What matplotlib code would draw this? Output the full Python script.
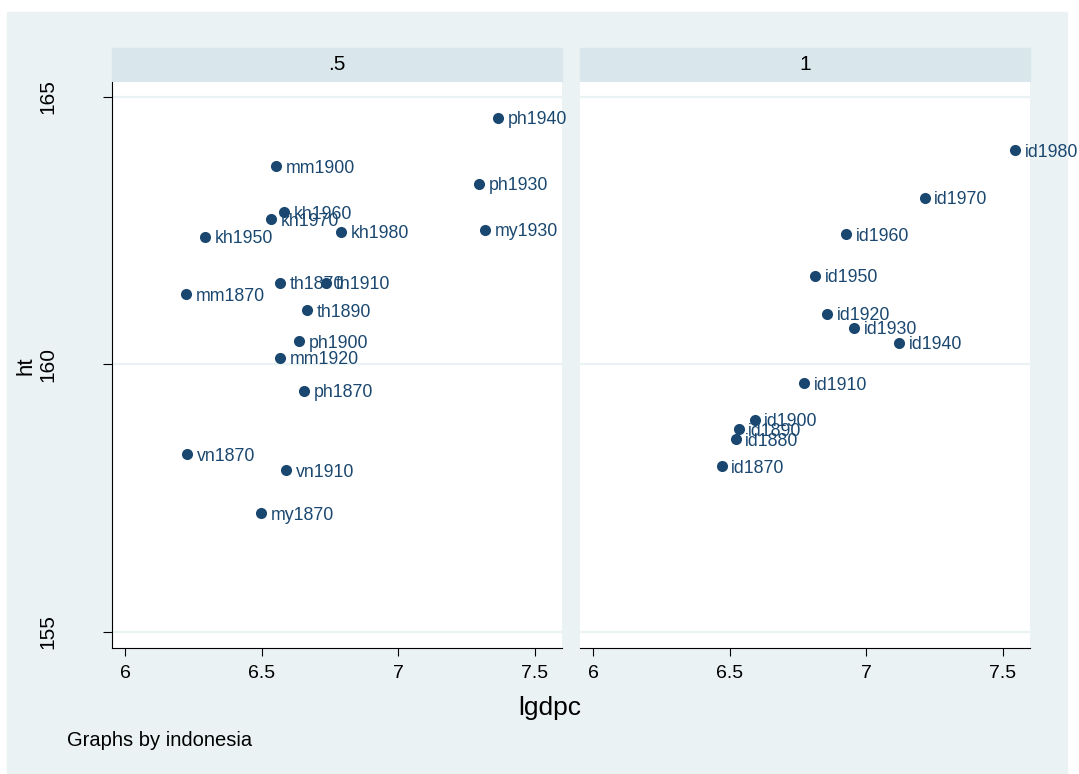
import matplotlib
matplotlib.use("Agg")
import matplotlib.pyplot as plt
from matplotlib.patches import Rectangle

matplotlib.rcParams.update({'font.family': ['Liberation Sans', 'DejaVu Sans']})

NAVY = '#1a476f'
BG = '#eaf2f3'
STRIP = '#d9e6eb'

# panel ".5": other countries
labels_a = ['ph1940', 'mm1900', 'ph1930', 'kh1960', 'kh1970', 'kh1950', 'kh1980',
            'my1930', 'th1870', 'th1910', 'mm1870', 'th1890', 'ph1900', 'mm1920',
            'ph1870', 'vn1870', 'vn1910', 'my1870']
lgdpc_a = [7.365, 6.553, 7.295, 6.582, 6.534, 6.293, 6.790,
           7.317, 6.567, 6.735, 6.223, 6.666, 6.637, 6.567,
           6.655, 6.227, 6.589, 6.498]
ht_a = [164.61, 163.71, 163.38, 162.85, 162.71, 162.39, 162.48,
        162.52, 161.53, 161.53, 161.31, 161.01, 160.43, 160.13,
        159.51, 158.32, 158.02, 157.22]

# panel "1": indonesia
labels_b = ['id1980', 'id1970', 'id1960', 'id1950', 'id1920', 'id1930',
            'id1940', 'id1910', 'id1900', 'id1890', 'id1880', 'id1870']
lgdpc_b = [7.544, 7.213, 6.926, 6.813, 6.857, 6.956,
           7.121, 6.772, 6.592, 6.533, 6.522, 6.471]
ht_b = [164.01, 163.12, 162.43, 161.66, 160.95, 160.69,
        160.41, 159.65, 158.97, 158.79, 158.60, 158.10]

panel_titles = ['.5', '1']
xticks = [6, 6.5, 7, 7.5]
xticklabels = ['6', '6.5', '7', '7.5']
yticks = [155, 160, 165]

W, H = 1079, 774
fig = plt.figure(figsize=(W / 100, H / 100), dpi=100)
fig.patch.set_facecolor('white')
fig.patches.append(Rectangle((7 / W, 0), 1060 / W, 1 - 12 / H,
                             transform=fig.transFigure, color=BG, zorder=-10))

panels = [(labels_a, lgdpc_a, ht_a), (labels_b, lgdpc_b, ht_b)]
lefts = [112, 580]
pw, top, bottom = 450, 82, 648

for k, (labs, xs, ys) in enumerate(panels):
    ax = fig.add_axes([lefts[k] / W, 1 - bottom / H, pw / W, (bottom - top) / H])
    ax.set_facecolor('white')
    ax.set_xlim(5.952, 7.599)
    ax.set_ylim(154.70, 165.28)

    for yv in yticks:
        ax.axhline(yv, color=BG, lw=1.6, zorder=1)

    ax.scatter(xs, ys, s=64, color=NAVY, zorder=3, linewidths=0)
    for lab, xv, yv in zip(labs, xs, ys):
        ax.annotate(lab, (xv, yv), xytext=(6.8, -1.5), textcoords='offset points',
                    va='center', ha='left', fontsize=12.8, color=NAVY,
                    zorder=4, annotation_clip=False)

    ax.set_xticks(xticks)
    ax.set_xticklabels(xticklabels)
    ax.tick_params(axis='x', length=6, width=0.8, pad=6, labelsize=14)
    for s in ['top', 'right']:
        ax.spines[s].set_visible(False)
    ax.spines['bottom'].set_linewidth(0.8)

    if k == 0:
        ax.set_yticks(yticks)
        ax.set_yticklabels([str(v) for v in yticks], rotation=90, va='center')
        ax.tick_params(axis='y', length=6.5, width=0.8, pad=33, labelsize=15)
        ax.spines['left'].set_linewidth(0.8)
    else:
        ax.set_yticks([])
        ax.spines['left'].set_visible(False)

    # facet strip above the panel
    fig.patches.append(Rectangle((lefts[k] / W, 1 - 81 / H), pw / W, 33 / H,
                                 transform=fig.transFigure, color=STRIP, zorder=-5))
    fig.text((lefts[k] + pw / 2) / W, 1 - 65 / H, panel_titles[k],
             ha='center', va='center', fontsize=15)

fig.text(26 / W, 1 - 366 / H, 'ht', rotation=90, ha='center', va='center', fontsize=16)
fig.text(550 / W, 1 - 708 / H, 'lgdpc', ha='center', va='center', fontsize=19)
fig.text(67 / W, 1 - 740 / H, 'Graphs by indonesia', ha='left', va='center', fontsize=14.5)

fig.savefig('out.png', dpi=100)
